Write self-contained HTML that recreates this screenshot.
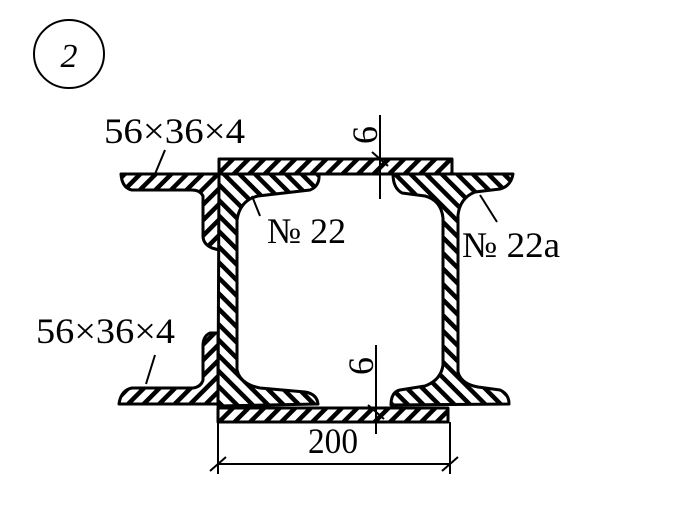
<!DOCTYPE html>
<html><head><meta charset="utf-8"><style>
html,body{margin:0;padding:0;background:#fff;width:689px;height:524px;overflow:hidden}
svg{display:block}
text{font-family:"Liberation Serif",serif;fill:#000}
</style></head><body>
<svg width="689" height="524" viewBox="0 0 689 524" xmlns="http://www.w3.org/2000/svg">
<defs>
<pattern id="h" width="11" height="11" patternUnits="userSpaceOnUse" patternTransform="rotate(45)">
<rect width="11" height="11" fill="#fff"/><rect x="0" y="0" width="4.5" height="11" fill="#000"/>
</pattern>
<pattern id="h2" width="11" height="11" patternUnits="userSpaceOnUse" patternTransform="rotate(-45)">
<rect width="11" height="11" fill="#fff"/><rect x="0" y="0" width="4.5" height="11" fill="#000"/>
</pattern>
</defs>
<g stroke="#000" stroke-width="3" stroke-linejoin="round">
<ellipse cx="69" cy="54" rx="35" ry="34" fill="none" stroke-width="2"/>
<rect x="219" y="159" width="233" height="15" fill="url(#h)"/>
<rect x="218" y="408" width="230" height="14" fill="url(#h)"/>
<path d="M121 174 L219 174 L219 250 L212 248 Q203 244 203 236 L203 196 Q200 190 192 190 L132 190 Q122 188 121 174 Z" fill="url(#h)"/>
<path d="M119 404 L218 404 L218 333 L210 333 Q203 336 203 346 L203 380 Q201 387 193 388 L132 388 Q121 390 119 404 Z" fill="url(#h)"/>
<path d="M219 174 L319 174 Q320 186 310 190 L258 196 Q240 200 237 220 L237 370 Q240 384 260 388 L305 392 Q317 394 318 404 L218 406 Z" fill="url(#h2)"/>
<path d="M393 174 L513 174 Q511 186 500 189 L475 192 Q460 198 458 215 L458 372 Q461 384 478 387 L500 390 Q509 394 509 404 L391 405 Q391 392 400 390 L425 386 Q441 380 443 365 L443 218 Q441 200 425 196 L402 193 Q393 188 393 174 Z" fill="url(#h2)"/>
<path d="M165 150 L155 174" fill="none" stroke-width="2"/>
<path d="M155 355 L146 384" fill="none" stroke-width="2"/>
<path d="M252 196 L260 216" fill="none" stroke-width="2"/>
<path d="M480 195 L497 222" fill="none" stroke-width="2"/>
<path d="M380 115 L380 199" fill="none" stroke-width="2"/>
<path d="M376 345 L376 434" fill="none" stroke-width="2"/>
<path d="M218 422 L218 474 M450 422 L450 474 M218 464 L450 464" fill="none" stroke-width="2"/>
<path d="M210 471 L226 457 M442 471 L458 457 M372 152 L388 166 M368 405 L384 419" fill="none" stroke-width="2"/>
</g>
<text x="69" y="67" font-size="34" font-style="italic" text-anchor="middle">2</text>
<text x="104" y="143" font-size="36" textLength="141" lengthAdjust="spacingAndGlyphs">56×36×4</text>
<text x="36" y="343" font-size="36" textLength="139" lengthAdjust="spacingAndGlyphs">56×36×4</text>
<text x="267" y="243" font-size="36" textLength="79" lengthAdjust="spacingAndGlyphs">№ 22</text>
<text x="462" y="257" font-size="36" textLength="98" lengthAdjust="spacingAndGlyphs">№ 22a</text>
<text x="308" y="453" font-size="36" textLength="50" lengthAdjust="spacingAndGlyphs">200</text>
<text font-size="36" transform="translate(377,135) rotate(-90)" text-anchor="middle">6</text>
<text font-size="36" transform="translate(373,366) rotate(-90)" text-anchor="middle">6</text>
</svg>
</body></html>
